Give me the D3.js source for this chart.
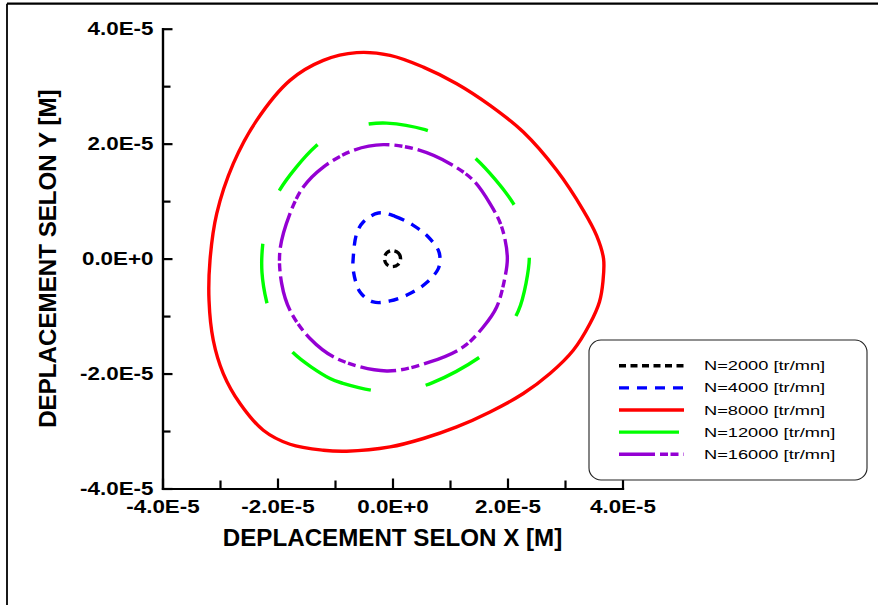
<!DOCTYPE html>
<html>
<head>
<meta charset="utf-8">
<script src="https://cdn.jsdelivr.net/npm/d3@7"></script>
<style>
  html, body { margin: 0; padding: 0; background: #fff; }
  svg { display: block; }
  text { font-family: "Liberation Sans", Arial, sans-serif; }
</style>
</head>
<body>
<svg id="chart" width="878" height="605"></svg>
<script>
// Orbit of the shaft centre (x, y displacement in metres) for each rotation speed
const seriesNames = ["N=2000 [tr/mn]", "N=4000 [tr/mn]", "N=8000 [tr/mn]", "N=12000 [tr/mn]", "N=16000 [tr/mn]"];
const seriesColors = ["#000000", "#0000ff", "#ff0000", "#00ff00", "#9400d3"];
const seriesDashes = ["7,4.5", "10,8", null, "60,56", "36,5,8,2.5,8,5"];
const seriesDashOffsets = [0, 0, 0, 14, 0];

const orbitN2000 = [
  [0.000e-5, 0.140e-5], [0.100e-5, 0.100e-5], [0.140e-5, 0.000e-5], [0.100e-5, -0.100e-5],
  [0.000e-5, -0.140e-5], [-0.100e-5, -0.100e-5], [-0.140e-5, 0.000e-5], [-0.100e-5, 0.100e-5]
];

const orbitN4000 = [
  [-0.247e-5, 0.793e-5], [0.043e-5, 0.736e-5], [0.362e-5, 0.579e-5], [0.623e-5, 0.376e-5],
  [0.797e-5, 0.144e-5], [0.826e-5, 0.005e-5], [0.797e-5, -0.174e-5], [0.595e-5, -0.417e-5],
  [0.304e-5, -0.609e-5], [-0.043e-5, -0.737e-5], [-0.334e-5, -0.755e-5], [-0.565e-5, -0.581e-5],
  [-0.682e-5, -0.203e-5], [-0.682e-5, 0.028e-5], [-0.623e-5, 0.435e-5], [-0.508e-5, 0.637e-5]
];

const orbitN8000 = [
  [-0.623e-5, 3.583e-5], [-1.203e-5, 3.449e-5], [-1.783e-5, 3.101e-5], [-2.362e-5, 2.405e-5],
  [-2.769e-5, 1.652e-5], [-3.057e-5, 0.783e-5], [-3.174e-5, -0.030e-5], [-3.191e-5, -0.725e-5],
  [-3.117e-5, -1.421e-5], [-2.943e-5, -2.000e-5], [-2.652e-5, -2.522e-5], [-2.247e-5, -2.986e-5],
  [-1.783e-5, -3.230e-5], [-1.203e-5, -3.334e-5], [-0.797e-5, -3.351e-5], [-0.043e-5, -3.277e-5],
  [0.536e-5, -3.130e-5], [1.117e-5, -2.929e-5], [1.696e-5, -2.668e-5], [2.275e-5, -2.348e-5],
  [2.739e-5, -2.000e-5], [3.144e-5, -1.595e-5], [3.435e-5, -1.130e-5], [3.600e-5, -0.750e-5],
  [3.660e-5, -0.400e-5], [3.670e-5, 0.000e-5], [3.550e-5, 0.400e-5], [3.318e-5, 0.840e-5],
  [2.856e-5, 1.536e-5], [2.275e-5, 2.202e-5], [1.696e-5, 2.666e-5], [1.117e-5, 3.043e-5],
  [0.536e-5, 3.332e-5], [-0.043e-5, 3.536e-5]
];

const orbitN12000 = [
  [-0.861e-5, -2.169e-5], [-1.087e-5, -2.087e-5], [-1.736e-5, -1.630e-5], [-2.043e-5, -1.212e-5],
  [-2.188e-5, -0.755e-5], [-2.270e-5, -0.238e-5], [-2.257e-5, 0.243e-5], [-2.165e-5, 0.736e-5],
  [-1.969e-5, 1.183e-5], [-1.336e-5, 1.953e-5], [-0.913e-5, 2.231e-5], [-0.449e-5, 2.336e-5],
  [-0.101e-5, 2.358e-5], [0.565e-5, 2.243e-5], [1.000e-5, 2.057e-5], [1.417e-5, 1.767e-5],
  [2.073e-5, 1.002e-5], [2.287e-5, 0.562e-5], [2.379e-5, 0.075e-5], [2.322e-5, -0.430e-5],
  [2.188e-5, -0.911e-5], [1.922e-5, -1.334e-5], [1.579e-5, -1.670e-5], [0.699e-5, -2.157e-5],
  [0.217e-5, -2.290e-5], [-0.275e-5, -2.303e-5]
];

const orbitN16000 = [
  [-0.160e-5, 1.983e-5], [0.478e-5, 1.883e-5], [1.000e-5, 1.652e-5], [1.405e-5, 1.362e-5],
  [1.696e-5, 0.957e-5], [1.899e-5, 0.550e-5], [1.997e-5, 0.028e-5], [1.957e-5, -0.320e-5],
  [1.812e-5, -0.842e-5], [1.579e-5, -1.190e-5], [1.231e-5, -1.537e-5], [0.652e-5, -1.798e-5],
  [-0.101e-5, -1.955e-5], [-0.970e-5, -1.739e-5], [-1.435e-5, -1.391e-5], [-1.783e-5, -0.899e-5],
  [-1.927e-5, -0.435e-5], [-1.957e-5, 0.144e-5], [-1.783e-5, 0.783e-5], [-1.551e-5, 1.245e-5],
  [-1.203e-5, 1.593e-5], [-0.682e-5, 1.883e-5]
];

const orbits = [orbitN2000, orbitN4000, orbitN8000, orbitN12000, orbitN16000];

// Axis ticks
const majorTicks = [-4e-5, -2e-5, 0, 2e-5, 4e-5];
const minorTicks = [-3e-5, -1e-5, 1e-5, 3e-5];
const tickLabels = ["-4.0E-5", "-2.0E-5", "0.0E+0", "2.0E-5", "4.0E-5"];
const xTitle = "DEPLACEMENT SELON X [M]";
const yTitle = "DEPLACEMENT SELON Y [M]";

const svg = d3.select("#chart");

// Outer frame (top and left edges)
svg.append("line").attr("x1", 7).attr("y1", 3.7).attr("x2", 878).attr("y2", 3.7)
  .attr("stroke", "#000").attr("stroke-width", 2.2);
svg.append("line").attr("x1", 7).attr("y1", 3.7).attr("x2", 7).attr("y2", 605)
  .attr("stroke", "#000").attr("stroke-width", 1.8);

const x = d3.scaleLinear().domain([-4e-5, 4e-5]).range([162.5, 622.5]);
const y = d3.scaleLinear().domain([-4e-5, 4e-5]).range([488.5, 28.7]);

// Text with a horizontal stretch (wide glyphs)
function stretchedText(g, str, tx, ty, size, sx, anchor, weight, rot) {
  return g.append("text")
    .attr("transform", `translate(${tx},${ty})${rot ? ` rotate(${rot})` : ""} scale(${sx},1)`)
    .attr("font-size", size)
    .attr("font-weight", weight)
    .attr("text-anchor", anchor)
    .attr("fill", "#000")
    .text(str);
}

// Curves
const line = d3.line()
  .x(d => x(d[0]))
  .y(d => y(d[1]))
  .curve(d3.curveCatmullRomClosed.alpha(0.5));

const curves = svg.append("g");
orbits.forEach((pts, i) => {
  curves.append("path")
    .attr("d", line(pts))
    .attr("fill", "none")
    .attr("stroke", seriesColors[i])
    .attr("stroke-width", 3.4)
    .attr("stroke-dasharray", seriesDashes[i])
    .attr("stroke-dashoffset", seriesDashOffsets[i])
    .attr("stroke-linejoin", "round");
});

// Axes
const axesG = svg.append("g");
const fmt = d => tickLabels[majorTicks.indexOf(d)];

const yMajor = axesG.append("g").attr("transform", `translate(${x(-4e-5)},0)`)
  .call(d3.axisLeft(y).tickValues(majorTicks).tickSizeInner(-10).tickSizeOuter(0).tickFormat(fmt));
axesG.append("g").attr("transform", `translate(${x(-4e-5)},0)`)
  .call(d3.axisLeft(y).tickValues(minorTicks).tickSizeInner(-8).tickSizeOuter(0).tickFormat(""));
const xMajor = axesG.append("g").attr("transform", `translate(0,${y(-4e-5)})`)
  .call(d3.axisBottom(x).tickValues(majorTicks).tickSizeInner(-10).tickSizeOuter(0).tickFormat(fmt));
axesG.append("g").attr("transform", `translate(0,${y(-4e-5)})`)
  .call(d3.axisBottom(x).tickValues(minorTicks).tickSizeInner(-8).tickSizeOuter(0).tickFormat(""));

axesG.selectAll(".domain, .tick line").attr("stroke", "#000").attr("stroke-width", 2.2);
axesG.selectAll(".domain").attr("stroke-linecap", "square");

// Tick labels: bold, wide
const tickSize = 17.5, tickStretch = 1.28;
yMajor.selectAll(".tick text")
  .attr("x", null).attr("dy", null)
  .attr("font-size", tickSize).attr("font-weight", "bold")
  .attr("font-family", "Liberation Sans, Arial, sans-serif").attr("fill", "#000")
  .attr("text-anchor", "end")
  .attr("transform", `translate(-9,6.2) scale(${tickStretch},1)`);
xMajor.selectAll(".tick text")
  .attr("y", null).attr("dy", null)
  .attr("font-size", tickSize).attr("font-weight", "bold")
  .attr("font-family", "Liberation Sans, Arial, sans-serif").attr("fill", "#000")
  .attr("text-anchor", "middle")
  .attr("transform", `translate(0,24.5) scale(${tickStretch},1)`);

// Axis titles
stretchedText(svg, xTitle, (x(-4e-5) + x(4e-5)) / 2, 546, 23, 1.05, "middle", "bold");
stretchedText(svg, yTitle, 56, (y(-4e-5) + y(4e-5)) / 2, 23, 1.05, "middle", "bold", -90);

// Legend
const legend = svg.append("g");
legend.append("rect")
  .attr("x", 589).attr("y", 340).attr("width", 278).attr("height", 140)
  .attr("rx", 12).attr("ry", 12)
  .attr("fill", "#fff").attr("stroke", "#222").attr("stroke-width", 1.1);
const rowY = d3.scalePoint().domain(seriesNames).range([365.7, 454.3]);
seriesNames.forEach((name, i) => {
  const ry = rowY(name);
  legend.append("line")
    .attr("x1", 619).attr("x2", 684).attr("y1", ry).attr("y2", ry)
    .attr("stroke", seriesColors[i]).attr("stroke-width", 3.4)
    .attr("stroke-dasharray", seriesDashes[i]);
  stretchedText(legend, name, 704, ry + 4.5, 12.5, 1.46, "start", "normal");
});
</script>
</body>
</html>
